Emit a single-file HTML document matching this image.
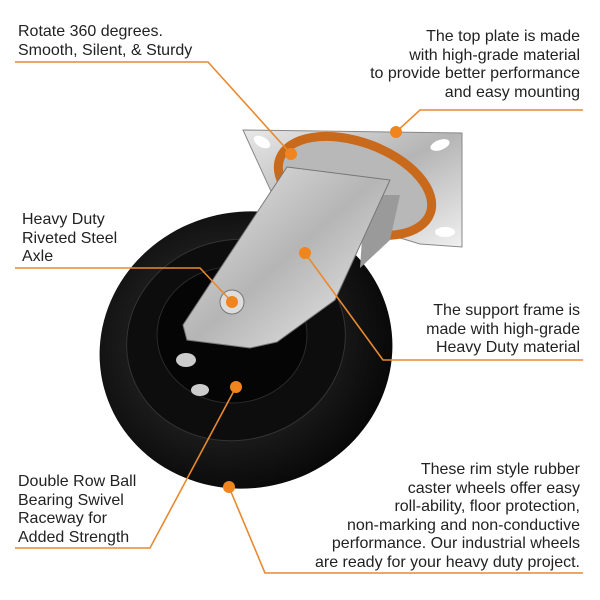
<!DOCTYPE html><html><head><style>
body{margin:0;background:#fff;}
.t{position:absolute;font-family:"Liberation Sans",sans-serif;font-size:16px;line-height:18.5px;color:#222;}
.r{text-align:right;}
</style></head><body>
<div style="position:relative;width:600px;height:600px;overflow:hidden">
<svg width="600" height="600" style="position:absolute;left:0;top:0">
<defs>
<linearGradient id="s" x1="0" y1="0" x2="1" y2="1"><stop offset="0" stop-color="#e8e8e8"/><stop offset=".5" stop-color="#b5b5b5"/><stop offset="1" stop-color="#f0f0f0"/></linearGradient>
<radialGradient id="w" cx=".45" cy=".45" r=".6"><stop offset=".6" stop-color="#1a1a1a"/><stop offset="1" stop-color="#050505"/></radialGradient>
</defs>
<polygon points="243,130 462,133 462,247 420,244 275,200" fill="url(#s)" stroke="#888"/>
<ellipse cx="262" cy="142" rx="9" ry="5" fill="#fff" transform="rotate(30 262 142)"/>
<ellipse cx="440" cy="145" rx="10" ry="5" fill="#fff" transform="rotate(-20 440 145)"/>
<ellipse cx="445" cy="232" rx="10" ry="5" fill="#fff"/>
<ellipse cx="246" cy="350" rx="147" ry="138" fill="url(#w)" transform="rotate(-15 246 350)"/>
<ellipse cx="236" cy="340" rx="110" ry="100" fill="#0d0d0d" stroke="#333" transform="rotate(-15 236 340)"/>
<ellipse cx="232" cy="335" rx="75" ry="68" fill="#050505" stroke="#2a2a2a"/>
<ellipse cx="186" cy="360" rx="10" ry="7" fill="#ccc"/>
<ellipse cx="200" cy="390" rx="9" ry="6" fill="#ccc"/>
<ellipse cx="355" cy="186" rx="80" ry="44" fill="#b8b8b8" stroke="#c9691c" stroke-width="9" transform="rotate(20 355 186)"/>
<polygon points="365,195 400,195 390,240 360,268" fill="#9a9a9a"/>
<polygon points="287,167 390,180 335,300 277,342 250,348 187,340 183,325" fill="url(#s)" stroke="#777"/>
<circle cx="232" cy="302" r="12" fill="#ddd" stroke="#777"/>
<g stroke="#e8892f" stroke-width="1.6" fill="none">
<polyline points="15,62 208,62 291,154"/>
<polyline points="583,110 420,110 396,132"/>
<polyline points="15,268 200,268 232,302"/>
<polyline points="583,360 383,360 305,253"/>
<polyline points="15,548 150,548 236,387"/>
<polyline points="583,573 265,573 229,487"/>
</g>
<g fill="#f0841e">
<circle cx="291" cy="154" r="6"/><circle cx="396" cy="132" r="6"/><circle cx="305" cy="253" r="6"/>
<circle cx="232" cy="302" r="6"/><circle cx="236" cy="387" r="6"/><circle cx="229" cy="487" r="6"/>
</g>
</svg>
<div class="t" style="left:18px;top:23px">Rotate 360 degrees.<br>Smooth, Silent, &amp; Sturdy</div>
<div class="t r" style="right:20px;top:28px">The top plate is made<br>with high-grade material<br>to provide better performance<br>and easy mounting</div>
<div class="t" style="left:22px;top:211px">Heavy Duty<br>Riveted Steel<br>Axle</div>
<div class="t r" style="right:20px;top:302px">The support frame is<br>made with high-grade<br>Heavy Duty material</div>
<div class="t" style="left:18px;top:473px">Double Row Ball<br>Bearing Swivel<br>Raceway for<br>Added Strength</div>
<div class="t r" style="right:20px;top:461px">These rim style rubber<br>caster wheels offer easy<br>roll-ability, floor protection,<br>non-marking and non-conductive<br>performance. Our industrial wheels<br>are ready for your heavy duty project.</div>
</div>
</body></html>
